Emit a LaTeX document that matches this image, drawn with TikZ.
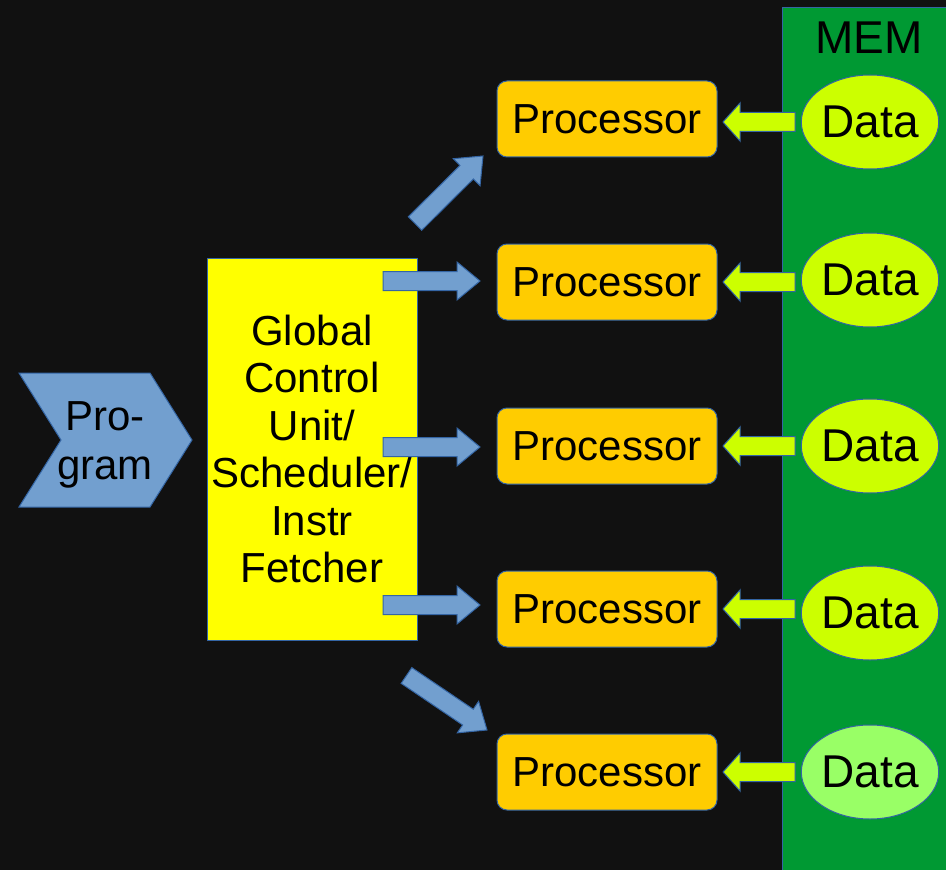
\documentclass[tikz,border=0pt]{standalone}
\usepackage{fontspec}
\setmainfont{Liberation Sans}
\usetikzlibrary{shapes.geometric,calc}
\definecolor{bgdark}{HTML}{111111}
\definecolor{memgreen}{HTML}{009933}
\definecolor{edgeblue}{HTML}{3465A4}
\definecolor{arrowblue}{HTML}{729FCF}
\definecolor{procfill}{HTML}{FFCC00}
\definecolor{datafill}{HTML}{CCFF00}
\definecolor{datalight}{HTML}{99FF66}
\definecolor{unitfill}{HTML}{FFFF00}

% block arrow: style, tail, tip, shaft half-width, head half-width, head length
\newcommand\blockarrow[6]{%
  \coordinate (ba-c) at ($(#3)!#6!(#2)$);
  \draw[#1] ($(#2)!#4!90:(#3)$) -- ($(ba-c)!#4!90:(#3)$) -- ($(ba-c)!#5!90:(#3)$)
    -- (#3) -- ($(ba-c)!#5!-90:(#3)$) -- ($(ba-c)!#4!-90:(#3)$) -- ($(#2)!#4!-90:(#3)$) -- cycle;}

\tikzset{
  txt/.style={font=\fontsize{31.5pt}{35.6pt}\selectfont, text=black},
  proc/.style={txt, draw=edgeblue, line width=0.75pt, fill=procfill, rounded corners=7.5pt,
    minimum width=165pt, minimum height=57pt, inner sep=0pt},
  datanode/.style={draw=edgeblue, line width=0.75pt, fill=datafill, ellipse,
    minimum width=100.5pt, minimum height=70.5pt, inner sep=0pt,
    font=\fontsize{34.5pt}{40pt}\selectfont, text=black},
  bluearrow/.style={draw=edgeblue, line width=0.75pt, fill=arrowblue, line join=miter},
  greenarrow/.style={draw=edgeblue, line width=0.75pt, fill=datafill, line join=miter},
}

\begin{document}
\begin{tikzpicture}[x=0.75pt,y=-0.75pt]
\useasboundingbox (0,0) rectangle (946,870);
\fill[bgdark] (0,0) rectangle (946,870);

% memory column
\draw[edgeblue, line width=0.75pt, fill=memgreen] (782,8) rectangle (950,875);
\node[font=\fontsize{34.5pt}{40pt}\selectfont, text=black] (mem) at (869,38) {MEM};

% program chevron
\draw[edgeblue, line width=0.75pt, fill=arrowblue, line join=miter]
  (19,373) -- (150,373) -- (192,440) -- (150,507) -- (19,507) -- (61,440) -- cycle;
\node[font=\fontsize{31.5pt}{36.5pt}\selectfont, text=black, align=center] (prog) at (105,445) {Pro-\\gram};

% global control unit
\node[txt, draw=edgeblue, line width=0.75pt, fill=unitfill, align=center,
  minimum width=157.5pt, minimum height=286.5pt, inner sep=0pt] (gcu) at (312,449)
  {Global\\Control\\Unit/\\Scheduler/\\Instr\\Fetcher};

% processors
\node[proc] (p1) at (607,119) {Processor};
\node[proc] (p2) at (607,282) {Processor};
\node[proc] (p3) at (607,446) {Processor};
\node[proc] (p4) at (607,609) {Processor};
\node[proc] (p5) at (607,772) {Processor};

% data in memory
\node[datanode] (d1) at (870,122) {Data};
\node[datanode] (d2) at (870,280) {Data};
\node[datanode] (d3) at (870,446) {Data};
\node[datanode] (d4) at (870,613) {Data};
\node[datanode, fill=datalight] (d5) at (870,772) {Data};

% dispatch arrows from the control unit
\coordinate (s1) at (415,223.5); \coordinate (t1) at (483,156);
\coordinate (s2) at (383,281);   \coordinate (t2) at (480,281);
\coordinate (s3) at (383,447);   \coordinate (t3) at (480,447);
\coordinate (s4) at (383,605);   \coordinate (t4) at (480,605);
\coordinate (s5) at (406.5,675.5); \coordinate (t5) at (487,730);
\foreach \i in {1,...,5}{
  \blockarrow{bluearrow}{s\i}{t\i}{7.125pt}{14.25pt}{17.25pt}
}

% data feed arrows
\coordinate (ms1) at (795,122); \coordinate (mt1) at (723,122);
\coordinate (ms2) at (795,282); \coordinate (mt2) at (723,282);
\coordinate (ms3) at (795,446); \coordinate (mt3) at (723,446);
\coordinate (ms4) at (795,609); \coordinate (mt4) at (723,609);
\coordinate (ms5) at (795,772); \coordinate (mt5) at (723,772);
\foreach \i in {1,...,5}{
  \blockarrow{greenarrow}{ms\i}{mt\i}{7.125pt}{14.25pt}{12.75pt}
}
\end{tikzpicture}
\end{document}
